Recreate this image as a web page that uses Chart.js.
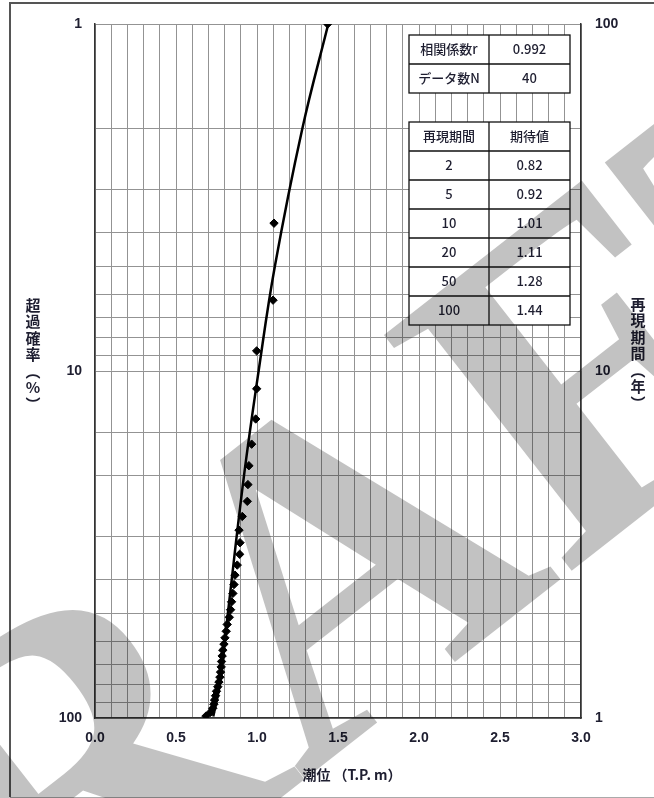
<!DOCTYPE html>
<html>
<head>
<meta charset="utf-8">
<script src="https://cdn.jsdelivr.net/npm/chart.js@4.4.1/dist/chart.umd.min.js"></script>
<style>
  html, body { margin: 0; padding: 0; background: #fff; }
  #wrap { width: 654px; height: 798px; }
</style>
</head>
<body>
<div id="wrap"><canvas id="chart" width="654" height="798"></canvas></div>
<script>
// observed points: exceedance probability (%) and tide level (T.P. m)
const obsProb = [1.0, 3.75, 6.25, 8.75, 11.25, 13.75, 16.25, 18.75, 21.25, 23.75,
  26.25, 28.75, 31.25, 33.75, 36.25, 38.75, 41.25, 43.75, 46.25, 48.75,
  51.25, 53.75, 56.25, 58.75, 61.25, 63.75, 66.25, 68.75, 71.25, 73.75,
  76.25, 78.75, 81.25, 83.75, 86.25, 88.75, 91.25, 93.75, 96.25, 98.75];
const obsLevel = [1.436, 1.105, 1.099, 0.998, 0.998, 0.992, 0.967, 0.950, 0.944, 0.940,
  0.909, 0.889, 0.895, 0.893, 0.878, 0.864, 0.858, 0.851, 0.843, 0.837,
  0.829, 0.816, 0.810, 0.802, 0.796, 0.789, 0.785, 0.781, 0.779, 0.775,
  0.771, 0.765, 0.758, 0.750, 0.744, 0.738, 0.734, 0.727, 0.713, 0.685];

// fitted curve
const fitProb = [1, 2, 5, 10, 20, 50, 80, 99];
const fitLevel = [1.44, 1.28, 1.11, 1.01, 0.92, 0.82, 0.77, 0.73];

// tables
const statLabels = ["相関係数r", "データ数N"];
const statValues = ["0.992", "40"];
const tableHead = ["再現期間", "期待値"];
const returnPeriods = ["2", "5", "10", "20", "50", "100"];
const expectedValues = ["0.82", "0.92", "1.01", "1.11", "1.28", "1.44"];

const xTitle = "潮位 （T.P. m）";
const leftTitle = ["超", "過", "確", "率", "︵", "%", "︶"];
const rightTitle = ["再", "現", "期", "間", "︵", "年", "︶"];
const yLabels = [1, 10, 100];

const cjk = '"Noto Sans CJK JP", "Noto Sans", sans-serif';
const textColor = "#1e1e30";

const decorations = {
  id: "decorations",
  beforeDraw(chart) {
    const c = chart.ctx;
    c.save();
    c.fillStyle = "#fff";
    c.fillRect(0, 0, chart.width, chart.height);
    c.strokeStyle = "#555";
    c.lineWidth = 2;
    c.beginPath();
    c.moveTo(10, 797); c.lineTo(10, 3); c.lineTo(654, 3);
    c.stroke();
    c.strokeStyle = "#aaa";
    c.lineWidth = 1;
    c.beginPath();
    c.moveTo(10, 797.5); c.lineTo(654, 797.5);
    c.stroke();
    c.restore();
  },
  afterDraw(chart) {
    const c = chart.ctx;
    c.save();
    c.fillStyle = textColor;
    c.textAlign = "center";
    c.textBaseline = "middle";
    c.font = "bold 15px " + cjk;
    leftTitle.forEach((ch, i) => c.fillText(ch, 33, 305 + i * 16.5));
    rightTitle.forEach((ch, i) => c.fillText(ch, 638, 304 + i * 16.5));
    c.font = "bold 14px " + cjk;
    c.fillText(xTitle, 352, 775);

    // tables
    const x0 = 409, x1 = 489, x2 = 570;
    const drawTable = (top, rowH, rows) => {
      const h = rowH * rows.length;
      c.fillStyle = "#fff";
      c.fillRect(x0, top, x2 - x0, h);
      c.strokeStyle = "#111";
      c.lineWidth = 1.3;
      c.strokeRect(x0, top, x2 - x0, h);
      c.beginPath();
      c.moveTo(x1, top); c.lineTo(x1, top + h);
      for (let i = 1; i < rows.length; i++) {
        c.moveTo(x0, top + i * rowH); c.lineTo(x2, top + i * rowH);
      }
      c.stroke();
      c.fillStyle = textColor;
      c.font = "500 13px " + cjk;
      rows.forEach((r, i) => {
        c.fillText(r[0], (x0 + x1) / 2, top + i * rowH + rowH / 2);
        c.fillText(r[1], (x1 + x2) / 2, top + i * rowH + rowH / 2);
      });
    };
    drawTable(35, 29, statLabels.map((s, i) => [s, statValues[i]]));
    drawTable(122, 29, [tableHead].concat(returnPeriods.map((t, i) => [t, expectedValues[i]])));
    c.restore();
  }
};

const watermark = {
  id: "watermark",
  afterDraw(chart) {
    const c = chart.ctx;
    c.save();
    c.globalCompositeOperation = "multiply";
    c.fillStyle = "#c2c2c2";
    c.font = 'bold 460px "Liberation Serif", serif';
    const wDR = c.measureText("DR").width;
    const mA = c.measureText("A");
    const H = mA.actualBoundingBoxAscent;
    const ua = wDR + mA.width / 2;
    const th = -38 * Math.PI / 180;
    const cs = Math.cos(th), sn = Math.sin(th);
    const apexX = 242, apexY = 436;
    c.translate(apexX - (ua * cs + H * sn), apexY - (ua * sn - H * cs));
    c.rotate(th);
    c.textAlign = "left";
    c.textBaseline = "alphabetic";
    c.fillText("DRAFT", 0, 0);
    c.restore();
  }
};

new Chart(document.getElementById("chart").getContext("2d"), {
  type: "scatter",
  data: {
    datasets: [
      {
        type: "line",
        data: fitProb.map((p, i) => ({ x: fitLevel[i], y: p })),
        borderColor: "#000",
        borderWidth: 2.5,
        pointRadius: 0,
        tension: 0.4,
        fill: false,
        yAxisID: "y"
      },
      {
        data: obsProb.map((p, i) => ({ x: obsLevel[i], y: p })),
        pointStyle: "rectRot",
        pointRadius: 4.2,
        backgroundColor: "#000",
        borderColor: "#000",
        yAxisID: "y"
      }
    ]
  },
  options: {
    responsive: false,
    animation: false,
    layout: { padding: { top: 24, left: 0, right: 0, bottom: 0 } },
    plugins: { legend: { display: false }, tooltip: { enabled: false } },
    scales: {
      x: {
        type: "linear",
        min: 0,
        max: 3,
        afterFit: (s) => { s.height = 80; },
        ticks: {
          stepSize: 0.1,
          autoSkip: false,
          maxRotation: 0,
          padding: 12,
          color: textColor,
          font: { size: 14, weight: "bold" },
          callback: (v) => Math.abs(v * 2 - Math.round(v * 2)) < 1e-6 ? v.toFixed(1) : ""
        },
        grid: { color: "#939393", lineWidth: 1, drawTicks: false },
        border: { color: "#333", width: 1.5 }
      },
      y: {
        type: "logarithmic",
        position: "left",
        reverse: true,
        min: 1,
        max: 100,
        afterFit: (s) => { s.width = 95; },
        ticks: {
          autoSkip: false,
          padding: 13,
          color: textColor,
          font: { size: 14, weight: "bold" },
          callback: (v) => yLabels.includes(v) ? String(v) : ""
        },
        grid: { color: "#939393", lineWidth: 1, drawTicks: false },
        border: { color: "#333", width: 1.5 }
      },
      y2: {
        type: "logarithmic",
        position: "right",
        min: 1,
        max: 100,
        afterFit: (s) => { s.width = 73; },
        ticks: {
          autoSkip: false,
          padding: 14,
          color: textColor,
          font: { size: 14, weight: "bold" },
          callback: (v) => yLabels.includes(v) ? String(v) : ""
        },
        grid: { display: false, drawTicks: false },
        border: { color: "#333", width: 1.5 }
      }
    }
  },
  plugins: [decorations, watermark]
});
</script>
</body>
</html>
